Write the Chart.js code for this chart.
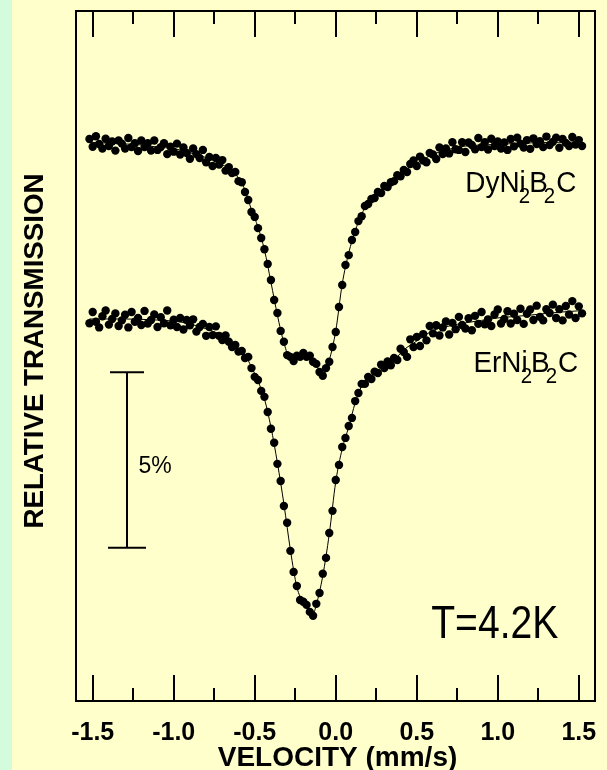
<!DOCTYPE html>
<html lang="en">
<head>
  <meta charset="UTF-8">
  <title>DyNi2B2C / ErNi2B2C at 4.2 K</title>
  <script src="https://cdn.jsdelivr.net/npm/chart.js"></script>
  <style>
    html, body { margin: 0; padding: 0; }
    body {
      width: 607px;
      height: 770px;
      overflow: hidden;
      background: linear-gradient(to right, #d4fcdc 0, #d4fcdc 12px, #ffffcc 12px);
    }
    canvas { display: block; }
  </style>
</head>
<body>
  <canvas id="spectrum" width="607" height="770"></canvas>

  <script>
    // channel velocities (mm/s)
    const VELOCITY = [
      -1.52, -1.50, -1.48, -1.46, -1.44, -1.42, -1.40, -1.38, -1.36, -1.34,
      -1.32, -1.30, -1.28, -1.26, -1.24, -1.22, -1.20, -1.18, -1.16, -1.14,
      -1.12, -1.10, -1.08, -1.06, -1.04, -1.02, -1.00, -0.98, -0.96, -0.94,
      -0.92, -0.90, -0.88, -0.86, -0.84, -0.82, -0.80, -0.78, -0.76, -0.74,
      -0.72, -0.70, -0.68, -0.66, -0.64, -0.62, -0.60, -0.58, -0.56, -0.54,
      -0.52, -0.50, -0.48, -0.46, -0.44, -0.42, -0.40, -0.38, -0.36, -0.34,
      -0.32, -0.30, -0.28, -0.26, -0.24, -0.22, -0.20, -0.18, -0.16, -0.14,
      -0.12, -0.10, -0.08, -0.06, -0.04, -0.02, 0.00, 0.02, 0.04, 0.06,
      0.08, 0.10, 0.12, 0.14, 0.16, 0.18, 0.20, 0.22, 0.24, 0.26,
      0.28, 0.30, 0.32, 0.34, 0.36, 0.38, 0.40, 0.42, 0.44, 0.46,
      0.48, 0.50, 0.52, 0.54, 0.56, 0.58, 0.60, 0.62, 0.64, 0.66,
      0.68, 0.70, 0.72, 0.74, 0.76, 0.78, 0.80, 0.82, 0.84, 0.86,
      0.88, 0.90, 0.92, 0.94, 0.96, 0.98, 1.00, 1.02, 1.04, 1.06,
      1.08, 1.10, 1.12, 1.14, 1.16, 1.18, 1.20, 1.22, 1.24, 1.26,
      1.28, 1.30, 1.32, 1.34, 1.36, 1.38, 1.40, 1.42, 1.44, 1.46,
      1.48, 1.50, 1.52
    ];

    // relative transmission (%), DyNi2B2C
    const DY_TRANS = [
      100.03, 99.81, 100.11, 99.89, 99.76, 100.04, 99.83, 99.96, 99.70, 99.99,
      99.90, 99.76, 100.06, 99.80, 99.91, 99.69, 99.99, 99.80, 99.91, 99.70,
      99.99, 99.72, 99.80, 99.91, 99.60, 99.81, 99.67, 99.90, 99.59, 99.79,
      99.63, 99.47, 99.76, 99.60, 99.49, 99.72, 99.37, 99.52, 99.26, 99.49,
      99.30, 99.43, 99.13, 99.23, 99.06, 99.09, 98.83, 98.80, 98.52, 98.29,
      97.95, 97.81, 97.49, 97.21, 96.89, 96.47, 96.01, 95.44, 95.07, 94.56,
      94.25, 93.87, 93.82, 93.70, 93.85, 93.82, 93.93, 93.82, 93.85, 93.68,
      93.62, 93.39, 93.28, 93.50, 93.68, 94.10, 94.53, 95.24, 95.87, 96.44,
      96.72, 97.15, 97.38, 97.69, 97.83, 98.12, 98.18, 98.32, 98.35, 98.52,
      98.49, 98.69, 98.66, 98.80, 98.83, 99.00, 98.97, 99.15, 99.09, 99.32,
      99.42, 99.26, 99.53, 99.42, 99.37, 99.63, 99.59, 99.46, 99.79, 99.60,
      99.76, 99.62, 99.94, 99.74, 99.72, 99.94, 99.66, 99.93, 99.86, 99.74,
      100.06, 99.80, 99.94, 99.73, 100.04, 99.83, 99.96, 99.76, 99.93, 99.72,
      100.03, 99.82, 100.07, 99.90, 99.79, 100.00, 99.75, 100.05, 99.89, 99.97,
      99.80, 100.10, 99.86, 99.95, 100.07, 99.78, 100.03, 99.92, 99.83, 100.09,
      99.87, 100.00, 99.83
    ];

    // relative transmission (%), ErNi2B2C, stacked 5% below
    const ER_TRANS = [
      94.78, 95.10, 94.82, 94.66, 94.98, 95.14, 94.74, 94.90, 95.06, 94.70,
      94.86, 95.02, 94.66, 95.10, 94.82, 94.93, 94.73, 95.13, 94.77, 94.87,
      95.03, 94.67, 94.95, 94.78, 95.14, 94.72, 94.88, 94.67, 94.93, 94.60,
      94.87, 94.72, 94.89, 94.54, 94.67, 94.76, 94.42, 94.67, 94.44, 94.69,
      94.42, 94.30, 94.43, 94.25, 94.10, 94.16, 93.97, 93.99, 93.79, 93.82,
      93.50, 93.25, 93.16, 92.85, 92.68, 92.25, 91.77, 91.37, 90.77, 90.28,
      89.57, 89.09, 88.29, 87.69, 87.29, 86.89, 86.84, 86.75, 86.55, 86.44,
      86.78, 87.09, 87.64, 88.09, 88.80, 89.43, 90.31, 90.74, 91.25, 91.51,
      91.85, 92.08, 92.56, 92.79, 93.05, 93.05, 93.25, 93.19, 93.40, 93.36,
      93.60, 93.50, 93.69, 93.58, 93.79, 93.73, 94.05, 93.96, 93.82, 94.32,
      94.10, 94.39, 94.13, 94.47, 94.29, 94.70, 94.49, 94.72, 94.43, 94.66,
      94.83, 94.46, 94.79, 94.61, 94.96, 94.73, 94.63, 94.92, 94.58, 94.99,
      94.76, 95.10, 94.75, 94.89, 94.70, 95.03, 95.17, 94.77, 94.90, 95.12,
      94.77, 95.05, 94.87, 95.19, 94.76, 95.05, 95.17, 94.87, 95.28, 94.96,
      94.86, 95.18, 95.07, 95.31, 94.93, 95.18, 94.86, 95.27, 95.03, 95.41,
      94.93, 95.26, 95.06
    ];

    // fitted curves
    const FIT_VELOCITY = [
      -1.52, -1.40, -1.30, -1.20, -1.10, -1.00, -0.90, -0.80, -0.70, -0.65,
      -0.60, -0.56, -0.52, -0.48, -0.44, -0.40, -0.36, -0.32, -0.28, -0.24,
      -0.20, -0.16, -0.14, -0.12, -0.08, -0.04, 0.00, 0.04, 0.08, 0.12,
      0.16, 0.20, 0.24, 0.30, 0.36, 0.42, 0.50, 0.60, 0.70, 0.80,
      0.90, 1.00, 1.10, 1.20, 1.30, 1.40, 1.52
    ];
    const DY_FIT = [
      99.94, 99.91, 99.89, 99.86, 99.80, 99.76, 99.64, 99.50, 99.30, 99.15,
      98.92, 98.58, 98.01, 97.52, 96.87, 95.95, 95.01, 94.22, 93.79, 93.79,
      93.87, 93.82, 93.73, 93.59, 93.30, 93.73, 94.56, 95.90, 96.78, 97.41,
      97.89, 98.21, 98.40, 98.63, 98.86, 99.12, 99.34, 99.59, 99.74, 99.83,
      99.86, 99.88, 99.90, 99.92, 99.93, 99.94, 99.95
    ];
    const ER_FIT = [
      94.90, 94.90, 94.90, 94.89, 94.87, 94.84, 94.76, 94.62, 94.42, 94.23,
      94.03, 93.87, 93.53, 93.13, 92.62, 91.82, 90.80, 89.63, 88.32, 87.26,
      86.81, 86.58, 86.50, 86.75, 87.58, 88.77, 90.26, 91.20, 91.82, 92.51,
      92.99, 93.22, 93.35, 93.59, 93.73, 94.02, 94.27, 94.57, 94.70, 94.79,
      94.86, 94.93, 94.97, 95.01, 95.06, 95.10, 95.14
    ];

    const X_MAJOR = [-1.5, -1.0, -0.5, 0.0, 0.5, 1.0, 1.5];
    const X_MINOR = [-1.25, -0.75, -0.25, 0.25, 0.75, 1.25];
    const SCALE_BAR_PCT = 5;

    const FONT = '"Liberation Sans", Arial, Helvetica, sans-serif';

    function toPoints(xs, ys) {
      return xs.map((v, i) => ({ x: v, y: ys[i] }));
    }

    // fillText with a horizontal squeeze (narrow Helvetica look)
    function narrowText(ctx, text, x, y, font, sx, align) {
      ctx.save();
      ctx.font = font;
      ctx.textAlign = align || 'left';
      ctx.textBaseline = 'alphabetic';
      ctx.translate(x, y);
      ctx.scale(sx, 1);
      ctx.fillText(text, 0, 0);
      ctx.restore();
    }

    // chemical formula with subscripts, parts = [text, isSub, gapAfter]
    function formula(ctx, parts, x, y) {
      const sx = 0.93;
      let cx = x;
      parts.forEach(([t, sub, gap]) => {
        const font = sub ? '22px ' + FONT : '30px ' + FONT;
        ctx.font = font;
        const w = ctx.measureText(t).width * sx;
        narrowText(ctx, t, cx, sub ? y + 11 : y, font, sx);
        cx += w + gap;
      });
    }

    const spectrumDecor = {
      id: 'spectrumDecor',
      afterDraw(chart) {
        const { ctx, chartArea: a, scales: { x, y } } = chart;
        ctx.save();
        ctx.strokeStyle = '#000';
        ctx.fillStyle = '#000';
        ctx.lineWidth = 2;

        // frame
        ctx.strokeRect(a.left, a.top, a.right - a.left, a.bottom - a.top);

        // inward ticks, top and bottom
        const tick = (v, len) => {
          const px = Math.round(x.getPixelForValue(v));
          ctx.beginPath();
          ctx.moveTo(px, a.top);
          ctx.lineTo(px, a.top + len);
          ctx.moveTo(px, a.bottom);
          ctx.lineTo(px, a.bottom - len);
          ctx.stroke();
        };
        X_MAJOR.forEach(v => tick(v, 26));
        X_MINOR.forEach(v => tick(v, 13));

        // tick labels
        X_MAJOR.forEach(v => {
          narrowText(ctx, v.toFixed(1), x.getPixelForValue(v), a.bottom + 39,
            'bold 25px ' + FONT, 1, 'center');
        });

        // axis titles
        narrowText(ctx, 'VELOCITY (mm/s)', (a.left + a.right) / 2 + 2, a.bottom + 65,
          'bold 28px ' + FONT, 1.0, 'center');
        ctx.save();
        ctx.translate(43, (a.top + a.bottom) / 2 - 5);
        ctx.rotate(-Math.PI / 2);
        narrowText(ctx, 'RELATIVE TRANSMISSION', 0, 0, 'bold 28px ' + FONT, 0.99, 'center');
        ctx.restore();

        // 5% scale bar
        const bx = Math.round(x.getPixelForValue(-1.29));
        const bTop = y.getPixelForValue(93.38);
        const bBot = y.getPixelForValue(93.38 - SCALE_BAR_PCT);
        ctx.beginPath();
        ctx.moveTo(bx, bTop);
        ctx.lineTo(bx, bBot);
        ctx.moveTo(bx - 17, bTop);
        ctx.lineTo(bx + 17, bTop);
        ctx.moveTo(bx - 19, bBot);
        ctx.lineTo(bx + 19, bBot);
        ctx.stroke();
        narrowText(ctx, SCALE_BAR_PCT + '%', x.getPixelForValue(-1.217), y.getPixelForValue(90.5),
          '23px ' + FONT, 1);

        // sample labels
        formula(ctx, [['Dy', false, 0], ['Ni', false, -7], ['2', true, -1], ['B', false, -4], ['2', true, 1], ['C', false, 0]],
          x.getPixelForValue(0.80), y.getPixelForValue(98.52));
        formula(ctx, [['Er', false, 0], ['Ni', false, -7], ['2', true, -1], ['B', false, -4], ['2', true, 1], ['C', false, 0]],
          x.getPixelForValue(0.85), y.getPixelForValue(93.39));

        // temperature
        narrowText(ctx, 'T=4.2K', x.getPixelForValue(0.589), y.getPixelForValue(85.81),
          '46px ' + FONT, 0.85);

        ctx.restore();
      }
    };

    const dotStyle = {
      showLine: false,
      pointRadius: 4.2,
      pointBorderWidth: 0,
      pointBackgroundColor: '#000',
      pointHoverRadius: 4.2
    };
    const fitStyle = {
      showLine: true,
      pointRadius: 0,
      borderColor: '#000',
      borderWidth: 1,
      cubicInterpolationMode: 'monotone'
    };

    new Chart(document.getElementById('spectrum'), {
      type: 'scatter',
      data: {
        datasets: [
          { label: 'DyNi2B2C fit', data: toPoints(FIT_VELOCITY, DY_FIT), ...fitStyle },
          { label: 'ErNi2B2C fit', data: toPoints(FIT_VELOCITY, ER_FIT), ...fitStyle },
          { label: 'DyNi2B2C', data: toPoints(VELOCITY, DY_TRANS), ...dotStyle },
          { label: 'ErNi2B2C', data: toPoints(VELOCITY, ER_TRANS), ...dotStyle }
        ]
      },
      options: {
        responsive: false,
        animation: false,
        layout: { padding: { left: 76, top: 11, right: 12, bottom: 69 } },
        plugins: {
          legend: { display: false },
          tooltip: { enabled: false }
        },
        scales: {
          x: { type: 'linear', display: false, min: -1.603, max: 1.600 },
          y: { type: 'linear', display: false, min: 84.01, max: 103.68 }
        }
      },
      plugins: [spectrumDecor]
    });
  </script>
</body>
</html>
